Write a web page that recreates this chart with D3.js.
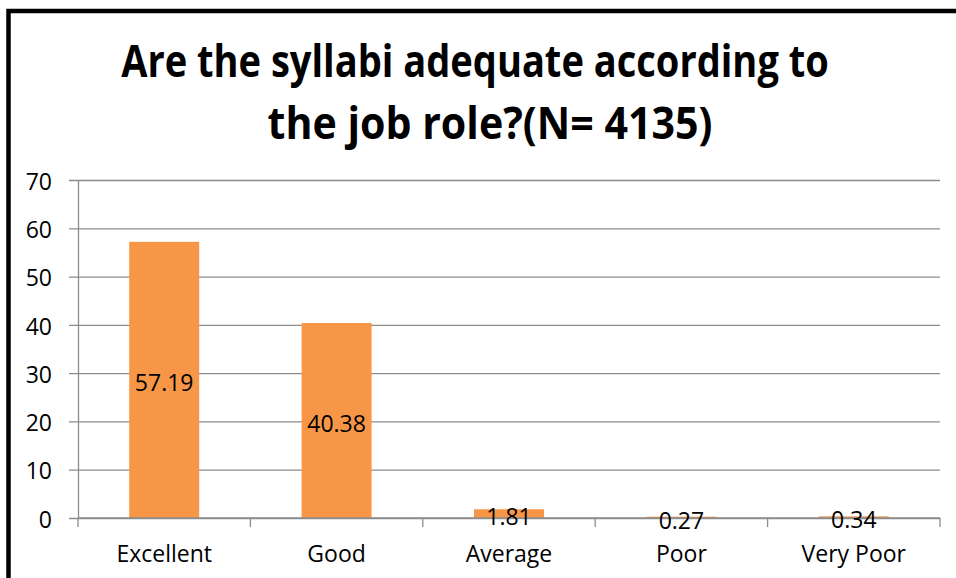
<!DOCTYPE html>
<html>
<head>
<meta charset="utf-8">
<script src="https://cdn.jsdelivr.net/npm/d3@7"></script>
<style>
  html, body { margin: 0; padding: 0; background: #ffffff; }
  svg { display: block; }
</style>
</head>
<body>
<div id="chart"></div>
<script>
// data
const CATEGORIES = ["Excellent", "Good", "Average", "Poor", "Very Poor"];
const VALUES = [57.19, 40.38, 1.81, 0.27, 0.34];
const Y_TICKS = [0, 10, 20, 30, 40, 50, 60, 70];
const TITLE_LINES = ["Are the syllabi adequate according to", "the job role?(N= 4135)"];

const SVG_WIDTH = 956;
const SVG_HEIGHT = 578;
const X_LEFT = 78;
const X_RIGHT = 940;
const Y_TOP = 180;
const Y_BOTTOM = 518;
const BAR_COLOR = "#f79646";
const GRID_COLOR = "#8c8c8c";
const FONT = "'Open Sans', 'DejaVu Sans', sans-serif";

const svg = d3.select("#chart")
  .append("svg")
  .attr("width", SVG_WIDTH)
  .attr("height", SVG_HEIGHT);

svg.append("rect")
  .attr("width", SVG_WIDTH)
  .attr("height", SVG_HEIGHT)
  .attr("fill", "#ffffff");

// frame (only left and top edges show in the picture)
svg.append("path")
  .attr("d", `M8.5,${SVG_HEIGHT} L8.5,11 L${SVG_WIDTH},11`)
  .attr("fill", "none")
  .attr("stroke", "#000")
  .attr("stroke-width", 4.5);

// title: squeezed horizontally to get the narrow Calibri look
const TITLE_POS = [[475, 77, 708], [490, 139, 445]];
svg.selectAll(".title")
  .data(TITLE_LINES)
  .enter()
  .append("text")
  .attr("class", "title")
  .attr("text-anchor", "middle")
  .style("font-family", "'Open Sans', sans-serif")
  .style("font-weight", "bold")
  .style("font-size", "45px")
  .style("fill", "#000")
  .text(d => d)
  .attr("transform", function(d, i) {
    const [cx, cy, w] = TITLE_POS[i];
    const k = w / this.getComputedTextLength();
    return `translate(${cx},${cy}) scale(${k},1)`;
  });

const xScale = d3.scaleBand()
  .domain(CATEGORIES)
  .range([X_LEFT, X_RIGHT])
  .paddingInner(0.594)
  .paddingOuter(0.297);

const yScale = d3.scaleLinear()
  .domain([0, 70])
  .range([Y_BOTTOM, Y_TOP]);

// y axis with gridlines
const yAxis = svg.append("g")
  .attr("class", "y-axis")
  .attr("transform", `translate(${X_LEFT},0)`)
  .call(d3.axisLeft(yScale)
    .tickValues(Y_TICKS)
    .tickSizeInner(-(X_RIGHT - X_LEFT))
    .tickSizeOuter(0)
    .tickPadding(26));

yAxis.select(".domain")
  .attr("stroke", GRID_COLOR)
  .attr("stroke-width", 1.3);
yAxis.selectAll(".tick line")
  .attr("x1", -9)
  .attr("stroke", GRID_COLOR)
  .attr("stroke-width", 1.3);
yAxis.selectAll(".tick text")
  .attr("dy", "0.4em")
  .style("font-family", FONT)
  .style("font-size", "23px")
  .style("fill", "#000");

// bars
svg.append("g")
  .selectAll("rect")
  .data(VALUES)
  .enter()
  .append("rect")
  .attr("x", (d, i) => xScale(CATEGORIES[i]))
  .attr("y", d => yScale(d))
  .attr("width", xScale.bandwidth())
  .attr("height", d => yScale(0) - yScale(d))
  .attr("fill", BAR_COLOR);

// x axis: line + boundary ticks
const step = xScale.step();
const edges = CATEGORIES.map(c => xScale(c) - (step - xScale.bandwidth()) / 2);
edges.push(X_RIGHT);

const xAxis = svg.append("g").attr("class", "x-axis");
xAxis.append("line")
  .attr("x1", X_LEFT)
  .attr("x2", X_RIGHT)
  .attr("y1", yScale(0))
  .attr("y2", yScale(0))
  .attr("stroke", GRID_COLOR)
  .attr("stroke-width", 1.3);
xAxis.selectAll(".edge")
  .data(edges)
  .enter()
  .append("line")
  .attr("class", "edge")
  .attr("x1", d => d)
  .attr("x2", d => d)
  .attr("y1", yScale(0))
  .attr("y2", yScale(0) + 9)
  .attr("stroke", GRID_COLOR)
  .attr("stroke-width", 1.3);

xAxis.selectAll(".cat")
  .data(CATEGORIES)
  .enter()
  .append("text")
  .attr("class", "cat")
  .attr("x", d => xScale(d) + xScale.bandwidth() / 2)
  .attr("y", 562)
  .attr("text-anchor", "middle")
  .style("font-family", FONT)
  .style("font-size", "23px")
  .style("fill", "#000")
  .text(d => d);

// data labels, centred in the bars
svg.append("g")
  .selectAll("text")
  .data(VALUES)
  .enter()
  .append("text")
  .attr("x", (d, i) => xScale(CATEGORIES[i]) + xScale.bandwidth() / 2)
  .attr("y", d => (yScale(d) + yScale(0)) / 2 + 3)
  .attr("dy", "0.36em")
  .attr("text-anchor", "middle")
  .style("font-family", FONT)
  .style("font-size", "23px")
  .style("fill", "#000")
  .text(d => d.toFixed(2));
</script>
</body>
</html>
